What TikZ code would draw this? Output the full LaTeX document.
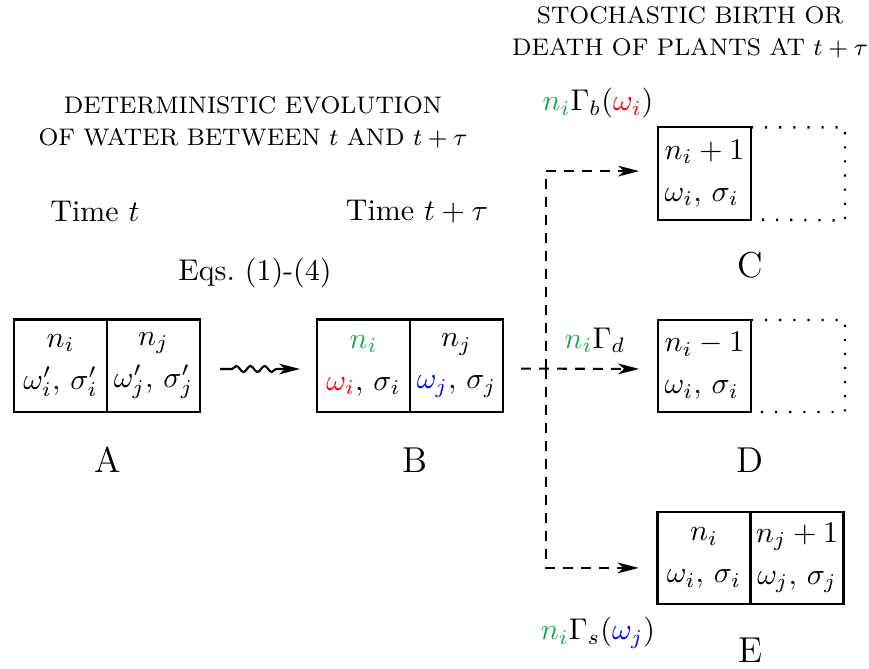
\documentclass[tikz,border=0pt]{standalone}
\usetikzlibrary{arrows.meta,decorations.pathmorphing}
\definecolor{pgreen}{RGB}{25,165,85}
\begin{document}
\begin{tikzpicture}[x=0.3333pt,y=-0.3333pt,
  cell/.style={draw,line width=0.7pt,minimum width=31pt,minimum height=30.7pt,inner sep=0pt,outer sep=0pt,align=center},
  lcell/.style={cell,align=left},
  ghost/.style={line width=0.8pt,dash pattern=on 0.7pt off 4pt},
  dasharrow/.style={line width=0.7pt,dash pattern=on 3.3pt off 2.7pt,-{Stealth[length=7pt,width=3.6pt,inset=2pt]}},
  lab/.style={inner sep=0pt},
  head/.style={inner sep=0pt,align=center,font=\footnotesize},
  letter/.style={inner sep=0pt,font=\large}]
\useasboundingbox (0,0) rectangle (869,668);

% headers
\node[head] (h1) at (253,122.5) {DETERMINISTIC EVOLUTION\\[1pt]OF WATER BETWEEN $t$ AND $t+\tau$};
\node[head] (h2) at (690,32) {STOCHASTIC BIRTH OR\\[1pt]DEATH OF PLANTS AT $t+\tau$};
\node[lab] (t1) at (95,212) {Time $t$};
\node[lab] (t2) at (417,212) {Time $t+\tau$};
\node[lab] (eq) at (255,273) {Eqs.\ (1)-(4)};

% box A
\node[cell] (A1) at (60.5,365.5) {$n_i$\\[2pt]$\omega'_i,\,\sigma'_i$};
\node[cell,anchor=west] (A2) at (A1.east) {$n_j$\\[2pt]$\omega'_j,\,\sigma'_j$};
% box B
\node[cell] (B1) at (363.5,365.5) {$\color{pgreen}n_i$\\[2pt]$\color{red}\omega_i\color{black},\,\sigma_i$};
\node[cell,anchor=west] (B2) at (B1.east) {$n_j$\\[2pt]$\color{blue}\omega_j\color{black},\,\sigma_j$};
% box C
\node[lcell] (C) at (704.5,173.5) {$n_i+1$\\[2pt]$\omega_i,\,\sigma_i$};
\draw[ghost] (C.north east) -- ++(94,0) -- ++(0,93) -- (C.south east);
% box D
\node[lcell] (D) at (704.5,366) {$n_i-1$\\[2pt]$\omega_i,\,\sigma_i$};
\draw[ghost] (D.north east) -- ++(94,0) -- ++(0,92) -- (D.south east);
% box E
\node[cell] (E1) at (704,558) {$n_i$\\[2pt]$\omega_i,\,\sigma_i$};
\node[cell,anchor=west] (E2) at (E1.east) {$n_j+1$\\[2pt]$\omega_j,\,\sigma_j$};

% letters
\node[letter] (LA) at (108,460) {A};
\node[letter] (LB) at (415,460) {B};
\node[letter] (LC) at (750,265) {C};
\node[letter] (LD) at (750,460) {D};
\node[letter] (LE) at (750,650) {E};

% rate labels
\node[lab] (rb) at (598,103) {$\color{pgreen}n_i\color{black}\Gamma_b(\color{red}\omega_i\color{black})$};
\node[lab] (rd) at (595,340) {$\color{pgreen}n_i\color{black}\Gamma_d$};
\node[lab] (rs) at (598,633) {$\color{pgreen}n_i\color{black}\Gamma_s(\color{blue}\omega_j\color{black})$};

% wavy arrow
\coordinate (w1) at (220,369);
\coordinate (w2) at (300,369);
\draw[line width=0.7pt,decorate,decoration={snake,amplitude=1pt,segment length=4.7pt,pre length=4pt,post length=7pt},-{Stealth[length=7pt,width=3.6pt,inset=2pt]}] (w1) -- (w2);

% dashed connectors
\coordinate (J) at (546,369);
\draw[dasharrow,shorten <=6pt,shorten >=6.3pt] ([yshift=-1pt]B2.east) -- ([yshift=-1pt]D.west);
\draw[dasharrow,shorten >=6.3pt] (J) |- ([yshift=0.8pt]C.west);
\draw[dasharrow,shorten >=6.3pt] (J) |- ([yshift=-3.3pt]E1.west);
\end{tikzpicture}
\end{document}
